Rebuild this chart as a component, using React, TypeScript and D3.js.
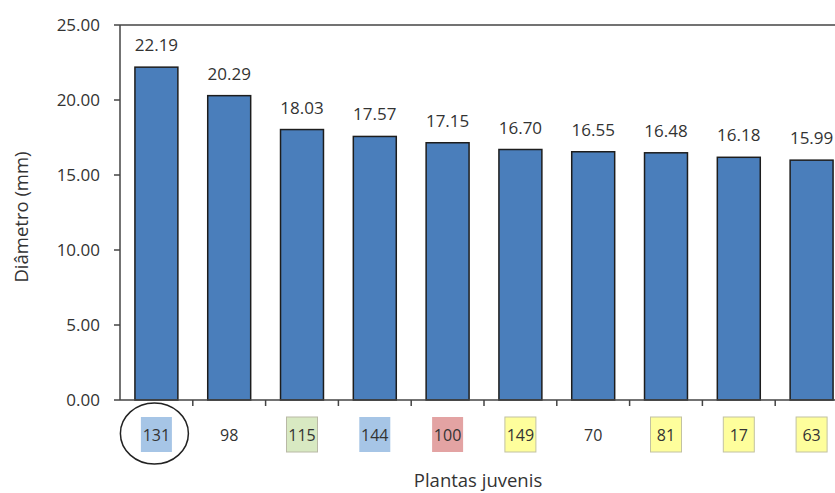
import React from "react";
import * as d3 from "d3";

const categories = ["131", "98", "115", "144", "100", "149", "70", "81", "17", "63"];
const values = [22.19, 20.29, 18.03, 17.57, 17.15, 16.7, 16.55, 16.48, 16.18, 15.99];
const highlight = ["blue", "none", "green", "blue", "red", "yellow", "none", "yellow", "yellow", "yellow"];
const yTicks = [0, 5, 10, 15, 20, 25];

const boxFill: Record<string, string> = {
  blue: "#a6c5e6",
  green: "#d8e9c2",
  red: "#e3a3a3",
  yellow: "#fefe9c",
};
const boxStroke: Record<string, string> = {
  blue: "none",
  green: "#b9b9a6",
  red: "none",
  yellow: "#c2c2a2",
};

const W = 835;
const H = 493;
const left = 120;
const top = 25;
const bottom = 400;
const right = 848;
const font = "Open Sans, Noto Sans, sans-serif";

export default function App() {
  const x = d3.scaleBand<string>().domain(categories).range([left, right]).paddingInner(0.41).paddingOuter(0.205);
  const band = d3.scaleBand<string>().domain(categories).range([left, right]).padding(0);
  const y = d3.scaleLinear().domain([0, 25]).range([bottom, top]);
  const bw = band.bandwidth();

  return (
    <svg width={W} height={H} style={{ position: "absolute", left: 0, top: 0, background: "#fff" }}>
      <line x1={left} x2={W} y1={top} y2={top} stroke="#444" strokeWidth={1.5} />
      {values.map((v, i) => (
        <rect
          key={i}
          x={x(categories[i])}
          y={y(v)}
          width={x.bandwidth()}
          height={bottom - y(v)}
          fill="#4a7ebb"
          stroke="#1d1d1d"
          strokeWidth={1.5}
        />
      ))}
      {values.map((v, i) => (
        <text
          key={i}
          x={(x(categories[i]) as number) + x.bandwidth() / 2}
          y={y(v) - 16}
          textAnchor="middle"
          fontFamily={font}
          fontSize={17}
          fill="#333"
        >
          {v.toFixed(2)}
        </text>
      ))}
      <line x1={left} x2={left} y1={top} y2={bottom} stroke="#444" strokeWidth={1.5} />
      {yTicks.map((t) => (
        <g key={t}>
          <line x1={left - 6} x2={left} y1={y(t)} y2={y(t)} stroke="#444" strokeWidth={1.5} />
          <text x={100} y={y(t) + 6} textAnchor="end" fontFamily={font} fontSize={17} fill="#333">
            {t.toFixed(2)}
          </text>
        </g>
      ))}
      <line x1={left} x2={W} y1={bottom} y2={bottom} stroke="#444" strokeWidth={1.5} />
      {categories.map((c) => (
        <line
          key={c}
          x1={(band(c) as number) + bw}
          x2={(band(c) as number) + bw}
          y1={bottom}
          y2={bottom + 6}
          stroke="#444"
          strokeWidth={1.5}
        />
      ))}
      {categories.map((c, i) => {
        const cx = (band(c) as number) + bw / 2;
        const h = highlight[i];
        return (
          <g key={c}>
            {h !== "none" && (
              <rect
                x={cx - 15.5}
                y={417}
                width={31}
                height={35}
                fill={boxFill[h]}
                stroke={boxStroke[h]}
                strokeWidth={1}
              />
            )}
            <text x={cx} y={441} textAnchor="middle" fontFamily={font} fontSize={16} fill="#333">
              {c}
            </text>
          </g>
        );
      })}
      <ellipse
        cx={(band(categories[0]) as number) + bw / 2 - 2}
        cy={433.5}
        rx={34}
        ry={30.5}
        fill="none"
        stroke="#222"
        strokeWidth={1.5}
      />
      <text x={478} y={487} textAnchor="middle" fontFamily={font} fontSize={18.5} fill="#333">
        Plantas juvenis
      </text>
      <text
        transform={`translate(28, 217) rotate(-90)`}
        textAnchor="middle"
        fontFamily={font}
        fontSize={18.5}
        fill="#333"
      >
        Diâmetro (mm)
      </text>
    </svg>
  );
}
